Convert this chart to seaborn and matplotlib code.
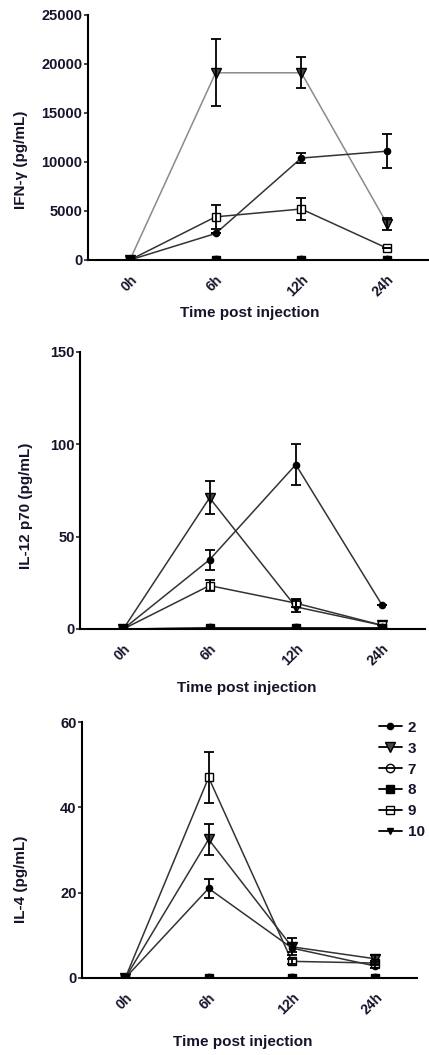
import numpy as np
import pandas as pd
import matplotlib
matplotlib.use("Agg")
import matplotlib.pyplot as plt
from matplotlib.lines import Line2D
import seaborn as sns

# ---------------------------------------------------------------------------
# Data (mean and error)
# ---------------------------------------------------------------------------
TIMES = ["0h", "6h", "12h", "24h"]
GROUPS = ["2", "3", "7", "8", "9", "10"]

IFN_MEAN = {
    "2":  [0, 2700, 10400, 11100],
    "3":  [0, 19100, 19100, 3700],
    "7":  [0, 0, 0, 0],
    "8":  [0, 0, 0, 0],
    "9":  [0, 4400, 5200, 1200],
    "10": [0, 0, 0, 0],
}
IFN_ERR = {
    "2":  [0, 0, 550, 1750],
    "3":  [0, 3400, 1600, 600],
    "9":  [0, 1200, 1150, 0],
}

IL12_MEAN = {
    "2":  [0, 37.5, 89, 13],
    "3":  [0, 71, 12, 2],
    "7":  [0, 0.5, 0.5, 0.5],
    "8":  [0, 0.5, 0.5, 0.5],
    "9":  [0, 23.5, 14, 2],
    "10": [0, 0, 0, 0],
}
IL12_ERR = {
    "2":  [0, 5.5, 11, 0],
    "3":  [0, 9, 3, 0],
    "9":  [0, 3, 2, 0],
}

IL4_MEAN = {
    "2":  [0, 21, 7, 2.8],
    "3":  [0, 32.5, 7.3, 4.5],
    "7":  [0, 0, 0, 0],
    "8":  [0, 0, 0, 0],
    "9":  [0, 47, 3.9, 3.5],
    "10": [0, 0, 0, 0],
}
IL4_ERR = {
    "2":  [0, 2.2, 1.0, 0.5],
    "3":  [0, 3.6, 2.0, 0.8],
    "9":  [0, 6, 0.6, 0.5],
}

TEXT = "#14142a"
LINE = "#333333"
W, H = 429, 1055

STYLE = {
    "2":  dict(marker="o", markersize=4.5, markerfacecolor="black"),
    "3":  dict(marker="v", markersize=7, markerfacecolor="#444444"),
    "7":  dict(marker="o", markersize=6, markerfacecolor="none"),
    "8":  dict(marker="s", markersize=6, markerfacecolor="black"),
    "9":  dict(marker="s", markersize=6, markerfacecolor="white"),
    "10": dict(marker="v", markersize=4, markerfacecolor="black"),
}


def draw_panel(ax, means, errs, yticks, ylabel, xlim, tri_color, ylab_xy, xlab_xy):
    order = ["3", "2", "9", "10", "7", "8"]
    for g in order:
        st = STYLE[g]
        col = tri_color if g == "3" else ("black" if g == "8" else LINE)
        df = pd.DataFrame({"t": np.arange(len(TIMES)), "v": means[g]})
        sns.lineplot(data=df, x="t", y="v", ax=ax, errorbar=None,
                     color=col, linewidth=1.1,
                     marker=st["marker"], markersize=st["markersize"],
                     markerfacecolor=st["markerfacecolor"],
                     markeredgecolor="black", markeredgewidth=1.0,
                     zorder=3)
        if g in errs:
            ax.errorbar(np.arange(len(TIMES)), means[g], yerr=errs[g],
                        fmt="none", ecolor="black", elinewidth=1.3,
                        capsize=3.5, capthick=1.3, zorder=4)
    ax.set_xlim(*xlim)
    ax.set_ylim(yticks[0], yticks[-1])
    ax.set_yticks(yticks)
    ax.set_xticks(np.arange(len(TIMES)))
    ax.set_xticklabels(TIMES, rotation=45, ha="right", rotation_mode="anchor",
                       fontsize=10, fontweight="bold", color=TEXT)
    ax.tick_params(axis="x", length=0, pad=9)
    ax.tick_params(axis="y", length=3, width=1.2, pad=1, labelsize=10.5,
                   labelcolor=TEXT)
    for lab in ax.get_yticklabels():
        lab.set_fontweight("bold")
    for s in ["top", "right"]:
        ax.spines[s].set_visible(False)
    for s in ["left", "bottom"]:
        ax.spines[s].set_linewidth(1.5)
        ax.spines[s].set_color("black")
    ax.set_ylabel(ylabel, fontsize=11, fontweight="bold", color=TEXT)
    ax.yaxis.set_label_coords(ylab_xy[0] / W, 1 - ylab_xy[1] / H,
                              transform=fig.transFigure)
    ax.set_xlabel("Time post injection", fontsize=11, fontweight="bold",
                  color=TEXT)
    ax.xaxis.set_label_coords(xlab_xy[0] / W, 1 - xlab_xy[1] / H,
                              transform=fig.transFigure)
    ax.xaxis.label.set_verticalalignment("center")


sns.set_style("ticks")
plt.rcParams["font.family"] = ["Liberation Sans", "DejaVu Sans"]
plt.rcParams["font.weight"] = "bold"

fig = plt.figure(figsize=(W / 100, H / 100), dpi=100)
ax1 = fig.add_axes([0.205, 0.7536, 0.795, 0.2322])
ax2 = fig.add_axes([0.187, 0.4038, 0.804, 0.2626])
ax3 = fig.add_axes([0.191, 0.0730, 0.781, 0.2426])

draw_panel(ax1, IFN_MEAN, IFN_ERR, [0, 5000, 10000, 15000, 20000, 25000],
           "IFN-γ (pg/mL)", (-0.49, 3.49), "#8a8a8a", (28, 160), (250, 313))
draw_panel(ax2, IL12_MEAN, IL12_ERR, [0, 50, 100, 150],
           "IL-12 p70 (pg/mL)", (-0.5, 3.5), LINE, (33, 506), (247, 688))
draw_panel(ax3, IL4_MEAN, IL4_ERR, [0, 20, 40, 60],
           "IL-4 (pg/mL)", (-0.52, 3.5), LINE, (28, 879), (243, 1042))

handles = []
for g in GROUPS:
    st = STYLE[g]
    fc = "none" if g == "9" else st["markerfacecolor"]
    handles.append(Line2D([0], [0], color="black", linewidth=1.3,
                          marker=st["marker"], markersize=st["markersize"],
                          markerfacecolor=fc, markeredgecolor="black"))
ax3.legend(handles, GROUPS, loc="upper left",
           bbox_to_anchor=(365 / W, 1 - 707 / H),
           bbox_transform=fig.transFigure, frameon=False,
           handlelength=1.5, handletextpad=0.4, labelspacing=0.45,
           prop={"size": 11, "weight": "bold"}, labelcolor=TEXT)

fig.savefig("out.png", dpi=100)
